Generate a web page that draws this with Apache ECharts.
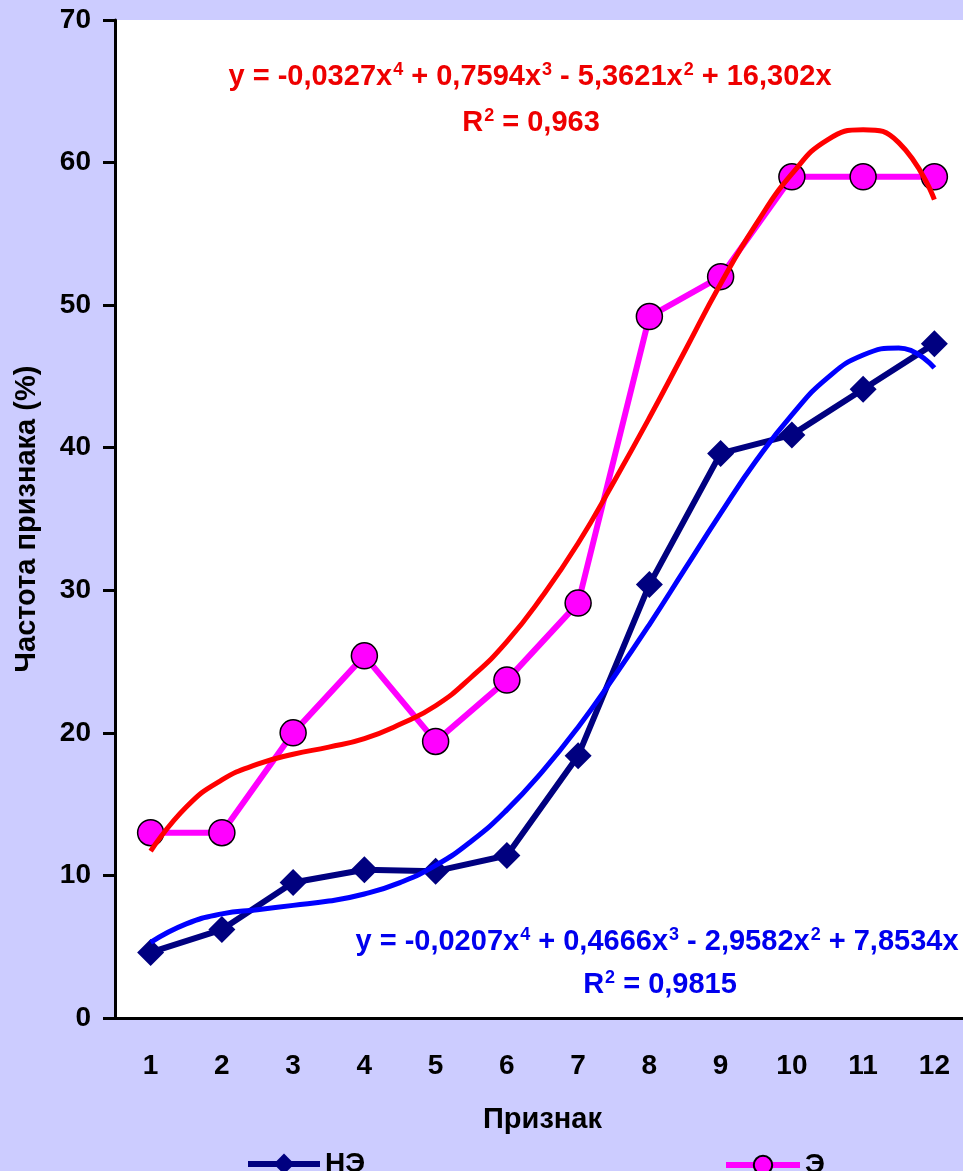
<!DOCTYPE html>
<html>
<head>
<meta charset="utf-8">
<title>Частота признака</title>
<script src="https://cdn.jsdelivr.net/npm/echarts/dist/echarts.min.js"></script>
<style>
  html, body { margin: 0; padding: 0; background: #ccccff; }
  #chart { width: 963px; height: 1171px; }
</style>
</head>
<body>
<div id="chart"></div>
<script>
// признаки 1..12
var categories = ['1', '2', '3', '4', '5', '6', '7', '8', '9', '10', '11', '12']
// НЭ (ромбы)
var neValues = [4.6, 6.2, 9.5, 10.4, 10.3, 11.4, 18.4, 30.4, 39.6, 40.9, 44.1, 47.3]
// Э (кружки)
var eValues = [13.0, 13.0, 20.0, 25.4, 19.4, 23.7, 29.1, 49.2, 52.0, 59.0, 59.0, 59.0]

var trendX = [1, 1.5, 2, 2.5, 3, 3.5, 4, 4.5, 5, 5.5, 6, 6.5, 7, 7.5, 8, 8.5, 9, 9.5, 10, 10.5, 11, 11.5, 12]
var eTrend = [11.7, 14.8, 16.7, 17.8, 18.5, 19.0, 19.6, 20.6, 21.9, 23.9, 26.4, 29.6, 33.3, 37.6, 42.1, 46.8, 51.5, 55.7, 59.2, 61.6, 62.3, 61.4, 57.4]
var neTrend = [5.3, 6.6, 7.3, 7.6, 7.9, 8.2, 8.7, 9.5, 10.7, 12.4, 14.6, 17.3, 20.4, 23.9, 27.6, 31.5, 35.4, 39.1, 42.3, 44.9, 46.5, 47.0, 45.6]

var yTicks = [0, 10, 20, 30, 40, 50, 60, 70]

var FONT = '"Liberation Sans", Arial, sans-serif'

function pairs(xs, ys) {
  var out = []
  for (var i = 0; i < xs.length; i++) out.push([xs[i], ys[i]])
  return out
}

// подпись уравнения с верхними индексами
function equation(x, y, text, color) {
  return {
    type: 'text',
    x: x,
    y: y,
    z: 100,
    style: {
      text: text,
      align: 'center',
      verticalAlign: 'middle',
      fill: color,
      font: 'bold 29px ' + FONT,
      rich: {
        n: { fontSize: 29, fontWeight: 'bold', fontFamily: FONT, fill: color, lineHeight: 32 },
        s: { fontSize: 18, fontWeight: 'bold', fontFamily: FONT, fill: color, verticalAlign: 'top', lineHeight: 32, padding: [0, 0, 0, 1] }
      }
    }
  }
}

var axisText = { fontSize: 28, fontWeight: 'bold', color: '#000', fontFamily: FONT }

var chart = echarts.init(document.getElementById('chart'))

var option = {
  backgroundColor: '#ccccff',
  animation: false,
  textStyle: { fontFamily: FONT },
  grid: {
    left: 115,
    top: 20,
    width: 855,
    height: 998,
    show: true,
    backgroundColor: '#ffffff',
    borderWidth: 0,
    outerBoundsMode: 'none'
  },
  legend: [
    {
      data: ['НЭ'],
      left: 240,
      top: 1145,
      itemWidth: 72,
      itemHeight: 26,
      itemGap: 6,
      lineStyle: { width: 6 },
      textStyle: axisText
    },
    {
      data: ['Э'],
      left: 718,
      top: 1146,
      itemWidth: 74,
      itemHeight: 23,
      itemGap: 6,
      lineStyle: { width: 6 },
      textStyle: axisText
    }
  ],
  xAxis: [
    {
      type: 'category',
      data: categories,
      name: 'Признак',
      nameLocation: 'middle',
      nameGap: 87,
      nameTextStyle: { fontSize: 29, fontWeight: 'bold', color: '#000', fontFamily: FONT },
      axisLine: { lineStyle: { color: '#000', width: 3 } },
      axisTick: { length: 11, lineStyle: { color: '#000', width: 3 } },
      axisLabel: { margin: 34, fontSize: 28, fontWeight: 'bold', color: '#000', fontFamily: FONT },
      splitLine: { show: false }
    },
    {
      // скрытая числовая ось для линий тренда
      type: 'value',
      min: 0.5,
      max: 12.5,
      show: false
    }
  ],
  yAxis: {
    type: 'value',
    min: yTicks[0],
    max: yTicks[yTicks.length - 1],
    interval: 10,
    name: 'Частота признака (%)',
    nameLocation: 'middle',
    nameGap: 74,
    nameTextStyle: { fontSize: 29, fontWeight: 'bold', color: '#000', fontFamily: FONT },
    axisLine: { show: true, lineStyle: { color: '#000', width: 3 } },
    axisTick: { show: true, length: 12, lineStyle: { color: '#000', width: 3 } },
    axisLabel: { margin: 24, fontSize: 28, fontWeight: 'bold', color: '#000', fontFamily: FONT },
    splitLine: { show: false }
  },
  series: [
    {
      name: 'НЭ',
      type: 'line',
      data: neValues,
      symbol: 'diamond',
      symbolSize: 27,
      lineStyle: { color: '#000080', width: 6 },
      itemStyle: { color: '#000080' },
      z: 2
    },
    {
      name: 'Э',
      type: 'line',
      data: eValues,
      symbol: 'circle',
      symbolSize: 26,
      lineStyle: { color: '#ff00ff', width: 6 },
      itemStyle: { color: '#ff00ff', borderColor: '#000', borderWidth: 1.5 },
      z: 2
    },
    {
      name: 'тренд Э',
      type: 'line',
      xAxisIndex: 1,
      data: pairs(trendX, eTrend),
      smooth: true,
      showSymbol: false,
      lineStyle: { color: '#ff0000', width: 5 },
      z: 3
    },
    {
      name: 'тренд НЭ',
      type: 'line',
      xAxisIndex: 1,
      data: pairs(trendX, neTrend),
      smooth: true,
      showSymbol: false,
      lineStyle: { color: '#0000ff', width: 5 },
      z: 3
    }
  ],
  graphic: [
    equation(530, 77, '{n|y = -0,0327x}{s|4}{n| + 0,7594x}{s|3}{n| - 5,3621x}{s|2}{n| + 16,302x}', '#ee0000'),
    equation(531, 123, '{n|R}{s|2}{n| = 0,963}', '#ee0000'),
    equation(657, 942, '{n|y = -0,0207x}{s|4}{n| + 0,4666x}{s|3}{n| - 2,9582x}{s|2}{n| + 7,8534x}', '#0000ee'),
    equation(660, 985, '{n|R}{s|2}{n| = 0,9815}', '#0000ee')
  ]
}

chart.setOption(option)
</script>
</body>
</html>
